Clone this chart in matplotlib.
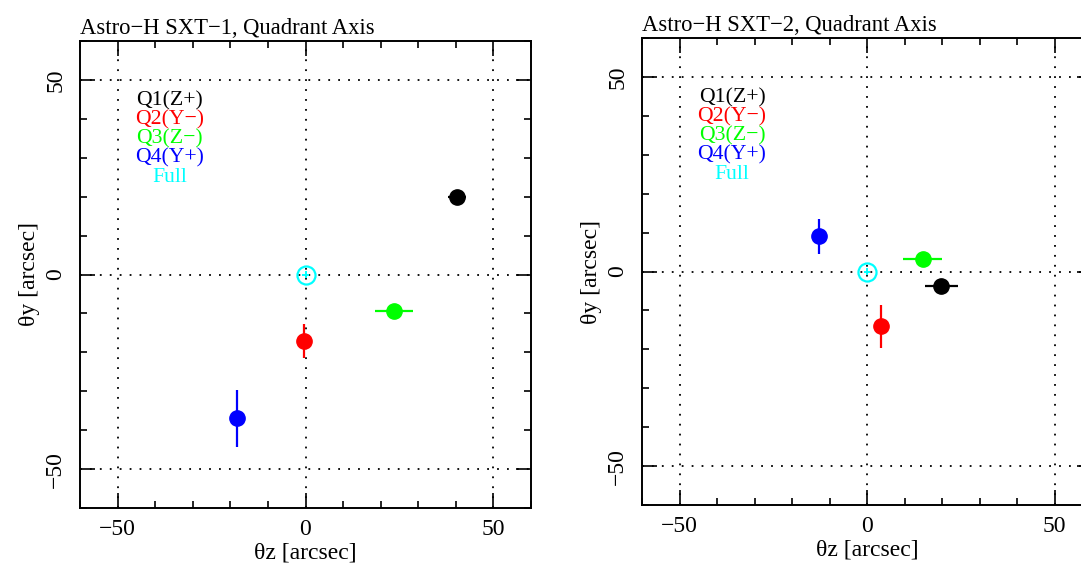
import matplotlib
matplotlib.use("Agg")
import matplotlib.pyplot as plt
from matplotlib.ticker import MultipleLocator

plt.rcParams['font.family'] = ['Liberation Serif', 'DejaVu Serif']
plt.rcParams['axes.unicode_minus'] = True

labels = ["Q1(Z+)", "Q2(Y\u2212)", "Q3(Z\u2212)", "Q4(Y+)", "Full"]
colors = ["black", "red", "#00ff00", "blue", "cyan"]

# SXT-1
x1 = [40.3, -0.3, 23.6, -18.2, 0.0]
y1 = [20.0, -17.1, -9.4, -36.9, 0.0]
xerr1 = [2.4, 0.3, 5.0, 0.3, 0.8]
yerr1 = [0.5, 4.4, 0.5, 7.3, 0.8]

# SXT-2
x2 = [19.8, 3.6, 14.8, -12.9, 0.0]
y2 = [-3.6, -14.1, 3.3, 9.1, 0.0]
xerr2 = [4.4, 0.3, 5.2, 0.3, 0.8]
yerr2 = [0.5, 5.5, 0.5, 4.5, 0.8]

titles = ["Astro\u2212H SXT\u22121, Quadrant Axis", "Astro\u2212H SXT\u22122, Quadrant Axis"]
legend_x = [-36.2, -36.0]
legend_y = [44.5, 39.7, 34.9, 30.0, 24.9]

fig = plt.figure(figsize=(10.81, 5.65), dpi=100)
ax1 = fig.add_axes([80/1081, 1-508/565, 451/1081, 467/565])
ax2 = fig.add_axes([642/1081, 1-505/565, 450/1081, 467/565])

for ax, xs, ys, xe, ye, title, lx in [(ax1, x1, y1, xerr1, yerr1, titles[0], legend_x[0]),
                                       (ax2, x2, y2, xerr2, yerr2, titles[1], legend_x[1])]:
    ax.set_xlim(-60, 60)
    ax.set_ylim(-60, 60)
    for v in (-50, 0, 50):
        ax.axvline(v, color='black', lw=1.3, ls=(0, (1, 4.5)), zorder=1)
        ax.axhline(v, color='black', lw=1.3, ls=(0, (1, 4.5)), zorder=1)
    for i in range(5):
        if labels[i] == "Full":
            ax.errorbar(xs[i], ys[i], xerr=xe[i], yerr=ye[i], fmt='o', mfc='none',
                        mec=colors[i], mew=1.6, ms=13, ecolor=colors[i], elinewidth=1.4,
                        capsize=0, zorder=3)
        else:
            ax.errorbar(xs[i], ys[i], xerr=xe[i], yerr=ye[i], fmt='o', color=colors[i],
                        ms=11, ecolor=colors[i], elinewidth=1.6, capsize=0, zorder=3)
        ax.text(lx, legend_y[i], labels[i], color=colors[i], fontsize=15.7,
                ha='center', va='center')
    ax.xaxis.set_major_locator(MultipleLocator(50))
    ax.yaxis.set_major_locator(MultipleLocator(50))
    ax.xaxis.set_minor_locator(MultipleLocator(10))
    ax.yaxis.set_minor_locator(MultipleLocator(10))
    ax.tick_params(which='both', direction='in', top=True, right=True, width=1.2, color='black')
    ax.tick_params(which='major', length=11, labelsize=17)
    ax.tick_params(axis='x', which='major', pad=8)
    ax.tick_params(axis='y', which='major', pad=10)
    ax.tick_params(which='minor', length=5)
    for lab in ax.get_yticklabels():
        lab.set_rotation(90)
        lab.set_va('center')
    for s in ax.spines.values():
        s.set_linewidth(1.4)
    ax.set_xlabel("\u03b8z [arcsec]", fontsize=17, labelpad=2)
    ax.set_ylabel("\u03b8y [arcsec]", fontsize=17, labelpad=4)
    ax.set_title(title, loc='left', fontsize=16.3, pad=5)

fig.savefig("out.png", dpi=100)
